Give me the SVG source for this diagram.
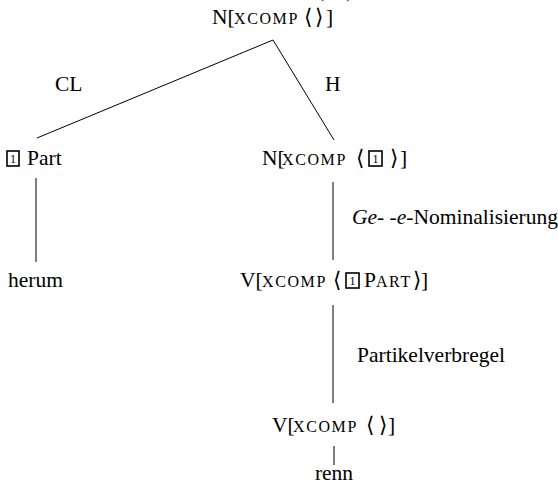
<svg xmlns="http://www.w3.org/2000/svg" width="558" height="488" viewBox="0 0 558 488">
<style>
text{font-family:"Liberation Serif","Times New Roman",Tinos,"DejaVu Serif",serif;font-size:21.5px;fill:#000}
.sc{font-size:16px;letter-spacing:1.6px}
.it{font-style:italic}
.tag{font-size:12px}
.box{fill:none;stroke:#000;stroke-width:1.6}
.edge{stroke:#000;stroke-width:1;fill:none}
.blue{fill:#1f4e9c;font-size:22px}
</style>
<rect width="558" height="488" fill="#fff"/>
<text class="blue" x="317" y="-3">(<tspan x="346">)</tspan></text>
<g id="connectors">
<line class="edge" x1="273" y1="40" x2="37" y2="138"/>
<line class="edge" x1="273" y1="40" x2="334" y2="140"/>
<line class="edge" x1="36" y1="178" x2="36" y2="262"/>
<line class="edge" x1="333" y1="182" x2="333" y2="260"/>
<line class="edge" x1="333" y1="305" x2="333" y2="403"/>
<line class="edge" x1="334" y1="446" x2="334" y2="465"/>
<text x="55" y="91">CL</text>
<text x="325" y="91">H</text>
<text x="352" y="224"><tspan class="it">Ge</tspan>- -<tspan class="it">e</tspan>-Nominalisierung</text>
<text x="357" y="362">Partikelverbregel</text>
</g>
<g id="root">
<text x="212" y="24">N[<tspan class="sc" x="234">XCOMP</tspan><tspan x="304">⟨</tspan><tspan x="315">⟩</tspan><tspan x="326">]</tspan></text>
</g>
<g id="part">
<rect class="box" x="7" y="151" width="12" height="15"/>
<text class="tag" x="13" y="163" text-anchor="middle">1</text>
<text x="27" y="165">Part</text>
</g>
<g id="n1">
<text x="262" y="165">N[<tspan class="sc" x="282">XCOMP</tspan><tspan x="356">⟨</tspan><tspan x="390">⟩</tspan><tspan x="400">]</tspan></text>
<rect class="box" x="369" y="151" width="13" height="15"/>
<text class="tag" x="375.5" y="163" text-anchor="middle">1</text>
</g>
<g id="herum">
<text x="8" y="287">herum</text>
</g>
<g id="v1">
<text x="240" y="287">V[<tspan class="sc" x="262">XCOMP</tspan><tspan x="333">⟨</tspan><tspan x="364">P</tspan><tspan class="sc">ART</tspan><tspan x="413">⟩</tspan><tspan x="421">]</tspan></text>
<rect class="box" x="346" y="273" width="13" height="15"/>
<text class="tag" x="352.5" y="285" text-anchor="middle">1</text>
</g>
<g id="v2">
<text x="272" y="432">V[<tspan class="sc" x="293">XCOMP</tspan><tspan x="366">⟨</tspan><tspan x="379">⟩</tspan><tspan x="388">]</tspan></text>
</g>
<g id="renn">
<text x="334" y="480" text-anchor="middle">renn</text>
</g>
</svg>
